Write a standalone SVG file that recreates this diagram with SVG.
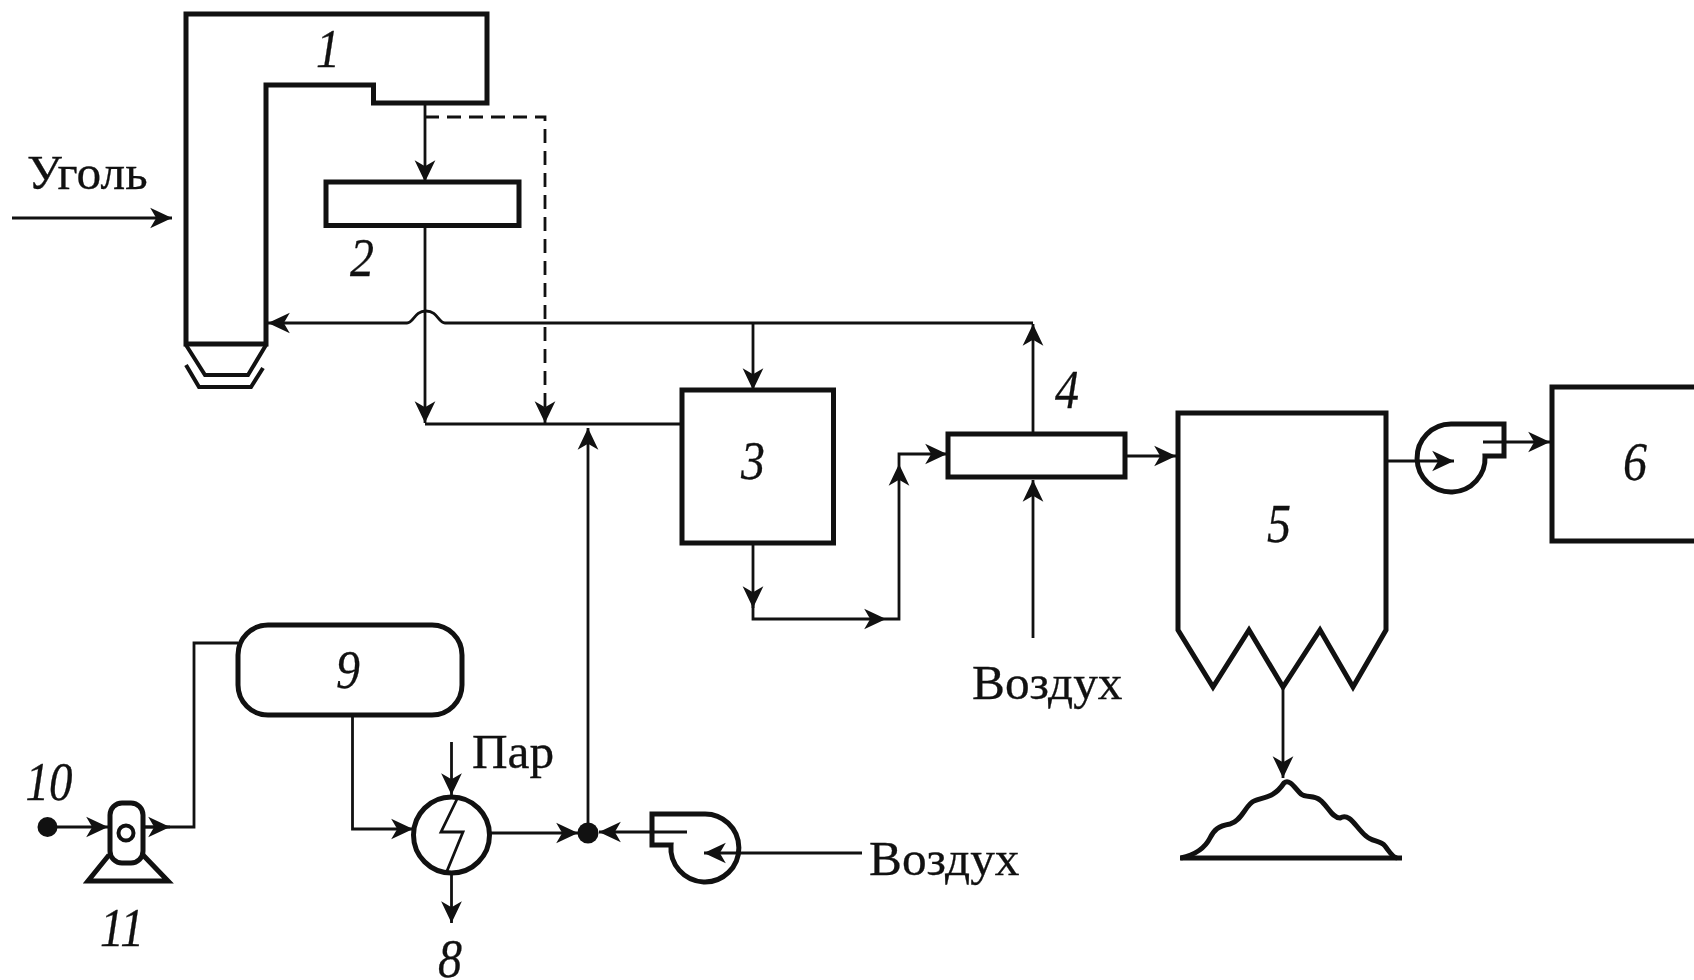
<svg xmlns="http://www.w3.org/2000/svg" width="1694" height="980" viewBox="0 0 1694 980">
<style>
.n{fill:none;stroke:#111;stroke-width:5;stroke-linejoin:miter}
.c{fill:none;stroke:#111;stroke-width:2.8}
.d{stroke-dasharray:14 8}
.t{font-family:"Liberation Serif","Times New Roman",serif;font-size:49.300px;fill:#111;stroke:#111;stroke-width:.3}
.i{font-style:italic;text-anchor:middle;font-size:54px}
</style>
<defs>
<marker id="ah" markerUnits="userSpaceOnUse" markerWidth="24" markerHeight="24" refX="20" refY="10" orient="auto" viewBox="0 0 22 20"><path d="M0,0.500 L20,10 L0,19.500 L5.500,10 Z" fill="#111"/></marker>
</defs>
<rect width="1694" height="980" fill="#fff"/>
<g id="connectors">
<path class="c" d="M425,104V182" marker-end="url(#ah)"/>
<path class="c d" d="M425,117H545V423" marker-end="url(#ah)"/>
<path class="c" d="M425,226V423" marker-end="url(#ah)"/>
<path class="c" d="M425,424H682"/>
<path class="c" d="M12,218H172" marker-end="url(#ah)"/>
<path class="c" d="M1033,323H445C438,323 438,311 426,311C414,311 414,323 407,323H268" marker-end="url(#ah)"/>
<path class="c" d="M1033,434V324" marker-end="url(#ah)"/>
<path class="c" d="M753,323V390" marker-end="url(#ah)"/>
<path class="c" d="M753,543V608" marker-end="url(#ah)"/>
<path class="c" d="M753,600V619H886" marker-end="url(#ah)"/>
<path class="c" d="M886,619H899V464" marker-end="url(#ah)"/>
<path class="c" d="M899,464V454H947" marker-end="url(#ah)"/>
<path class="c" d="M1033,638V480" marker-end="url(#ah)"/>
<path class="c" d="M1125,456H1176" marker-end="url(#ah)"/>
<path class="c" d="M1386,461H1454" marker-end="url(#ah)"/>
<path class="c" d="M1483,442H1550" marker-end="url(#ah)"/>
<path class="c" d="M1283,688V778" marker-end="url(#ah)"/>
<path class="c" d="M588,833V428" marker-end="url(#ah)"/>
<path class="c" d="M238,643H194V827H145"/>
<path class="c" d="M143,827H170" marker-end="url(#ah)"/>
<path class="c" d="M47,827H108" marker-end="url(#ah)"/>
<path class="c" d="M352.500,715V829H413" marker-end="url(#ah)"/>
<path class="c" d="M451.500,742V795" marker-end="url(#ah)"/>
<path class="c" d="M451.500,873V923" marker-end="url(#ah)"/>
<path class="c" d="M490,833H578" marker-end="url(#ah)"/>
<path class="c" d="M687,832H599" marker-end="url(#ah)"/>
<path class="c" d="M862,853H704" marker-end="url(#ah)"/>
</g>
<g id="node-1"><path class="n" d="M186,14H487V103H373.500V85H266V344H186Z"/><path class="n" style="stroke-width:4" d="M186,345L205,375H248L266,345"/><path class="n" style="stroke-width:4" d="M186,365L199,387H251L263,368"/><text class="t i" x="328" y="67" textLength="24" lengthAdjust="spacingAndGlyphs">1</text></g>
<g id="node-2"><rect class="n" x="326" y="182" width="193" height="43.500"/><text class="t i" x="362" y="276" textLength="24" lengthAdjust="spacingAndGlyphs">2</text></g>
<g id="node-3"><rect class="n" x="682" y="390" width="151.500" height="153"/><text class="t i" x="753" y="479" textLength="24" lengthAdjust="spacingAndGlyphs">3</text></g>
<g id="node-4"><rect class="n" x="948" y="434" width="177" height="43"/><text class="t i" x="1067" y="408" textLength="24" lengthAdjust="spacingAndGlyphs">4</text></g>
<g id="node-5"><path class="n" d="M1178,413H1386V630L1353,687L1320,630L1283,687L1249,630L1213,687L1178,630Z"/><text class="t i" x="1279" y="542" textLength="24" lengthAdjust="spacingAndGlyphs">5</text></g>
<g id="node-6"><path class="n" d="M1700,387H1552V541H1700"/><text class="t i" x="1635" y="480" textLength="24" lengthAdjust="spacingAndGlyphs">6</text></g>
<g id="node-7"><path class="n" d="M1451,424H1504V456H1485A34,34 0 1 1 1451,424Z"/></g>
<g id="node-8"><circle class="n" cx="451.500" cy="835" r="38"/><path class="c" d="M458,797L441,832H463L447,871"/><text class="t i" x="450" y="977" textLength="24" lengthAdjust="spacingAndGlyphs">8</text></g>
<g id="node-9"><rect class="n" x="238" y="625" width="224" height="90" rx="30"/><text class="t i" x="348" y="688" textLength="24" lengthAdjust="spacingAndGlyphs">9</text></g>
<g id="node-10"><circle cx="47.500" cy="827" r="10" fill="#111"/><text class="t i" x="49" y="800" textLength="47" lengthAdjust="spacingAndGlyphs">10</text></g>
<g id="node-11"><rect class="n" x="110" y="803" width="33" height="60" rx="12"/><circle class="n" cx="126" cy="833" r="7.500" style="stroke-width:4"/><path class="n" d="M109,855L88,881H168L143,855"/><text class="t i" x="122" y="946" textLength="44" lengthAdjust="spacingAndGlyphs">11</text></g>
<g id="junction"><circle cx="588" cy="833" r="10.500" fill="#111"/></g>
<g id="node-fan"><path class="n" d="M703,814H652V845H671A34,34 0 1 0 703,814Z"/></g>
<g id="node-pile"><path class="n" d="M1180,858H1402"/><path class="n" d="M1181,858C1194,855 1205,848 1210,838C1214,830 1218,826 1230,824C1242,821 1246,804 1254,801C1264,797 1274,798 1284,783C1290,778 1296,790 1301,794C1306,798 1314,795 1320,800C1328,806 1332,818 1340,818C1350,812 1356,828 1366,836C1372,842 1380,840 1385,846C1389,851 1392,857 1397,858"/></g>
<g id="labels">
<text class="t" x="27" y="189">Уголь</text>
<text class="t" x="972" y="699">Воздух</text>
<text class="t" x="869" y="875">Воздух</text>
<text class="t" x="472" y="768">Пар</text>
</g>
</svg>
